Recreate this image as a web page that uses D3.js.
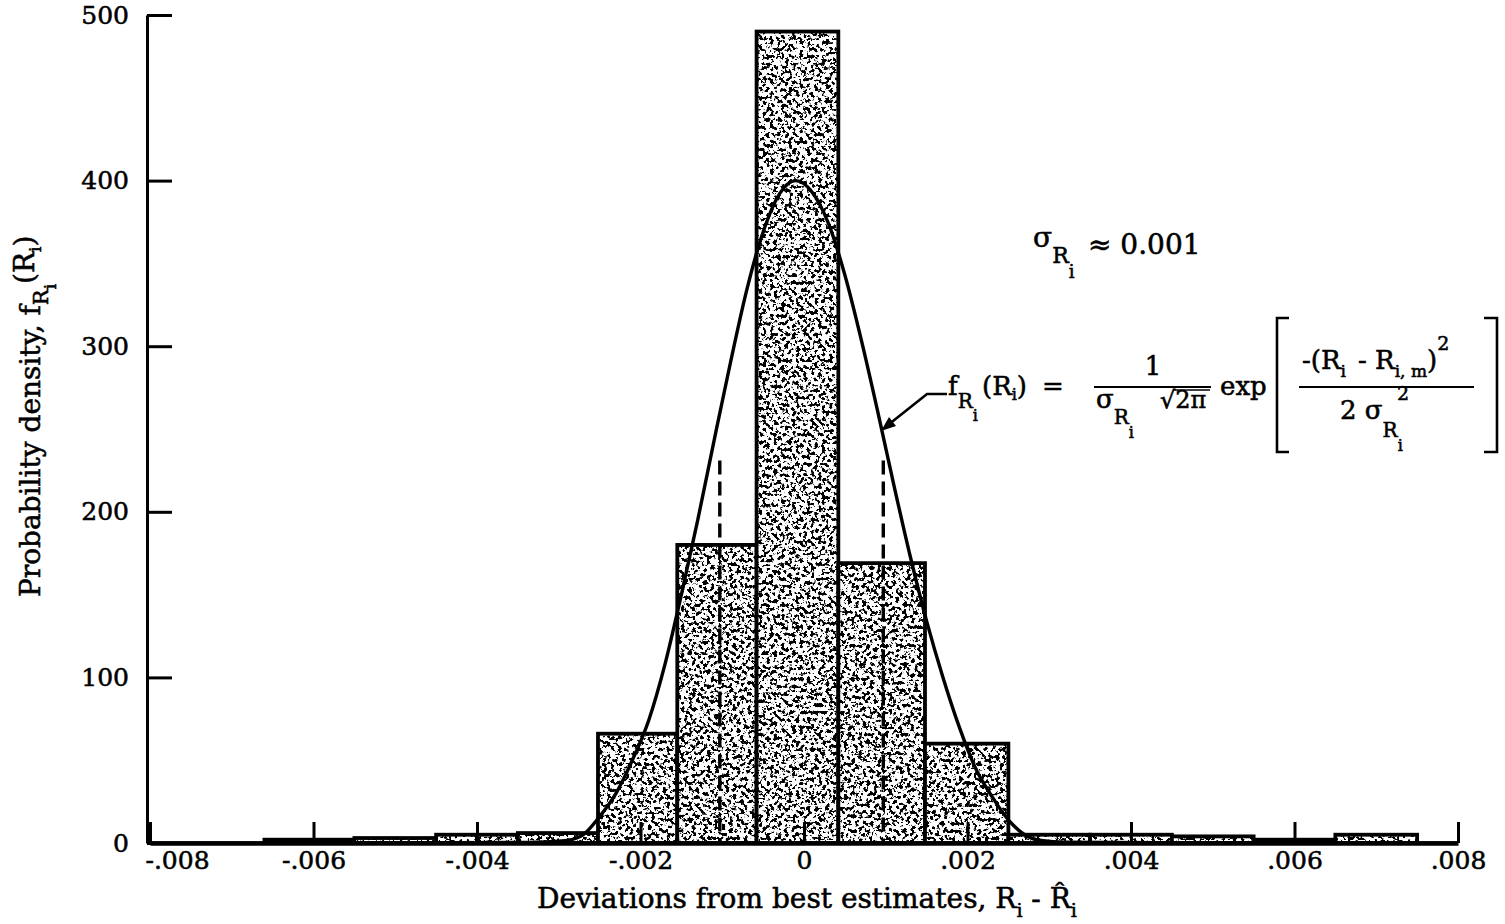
<!DOCTYPE html>
<html>
<head>
<meta charset="utf-8">
<script src="https://cdn.jsdelivr.net/npm/d3@7"></script>
<style>
  html, body { margin: 0; padding: 0; background: #fff; }
  svg { display: block; }
  text { font-family: "DejaVu Serif", serif; fill: #000; stroke: #000; stroke-width: 0.55px; }
</style>
</head>
<body>
<svg id="chart" width="1505" height="924"></svg>
<script>
// ---------------- data ----------------
const binEdges = [-0.0066, -0.0055, -0.0045, -0.0035, -0.00252, -0.00155, -0.00058,
                  0.00042, 0.00148, 0.0025, 0.0035, 0.0045, 0.0055, 0.0065, 0.0075];
const binDensity = [2, 3, 5, 6, 66, 180, 490, 169, 60, 5, 5, 4, 2, 5];

const curveX = [-0.008, -0.005, -0.0035, -0.0031, -0.0029, -0.0027, -0.0025, -0.0023,
                -0.0021, -0.0019, -0.0017, -0.0015, -0.0013, -0.0011, -0.0009, -0.0007,
                -0.0005, -0.0003, -0.0001, 0.0001, 0.0003, 0.0005, 0.0007, 0.0009, 0.0011,
                0.0013, 0.0015, 0.0017, 0.0019, 0.0021, 0.0023, 0.0025, 0.0027, 0.0029,
                0.0032, 0.0045, 0.008];
const curveY = [0, 0, 0.3, 0.8, 1.5, 5, 16, 30, 50, 74, 108, 150, 195, 243, 290, 334,
                369, 392, 400, 393, 374, 343, 304, 261, 216, 173, 134, 100, 70, 45, 28,
                14, 5, 1.5, 0.5, 0.2, 0];

const sigmaLinesX = [-0.00103, 0.00097];
const sigmaLinesTop = [231, 231];

const xTicks = [-0.008, -0.006, -0.004, -0.002, 0, 0.002, 0.004, 0.006, 0.008];
const xTickLabels = ["-.008", "-.006", "-.004", "-.002", "0", ".002", ".004", ".006", ".008"];
const yTicks = [0, 100, 200, 300, 400, 500];

// ---------------- setup ----------------
const svg = d3.select("#chart");
const x = d3.scaleLinear().domain([-0.008, 0.008]).range([150, 1458]);
const y = d3.scaleLinear().domain([0, 500]).range([843, 15]);

const defs = svg.append("defs");
const filt = defs.append("filter").attr("id", "speck")
  .attr("filterUnits", "userSpaceOnUse")
  .attr("x", 0).attr("y", 0).attr("width", 1505).attr("height", 924)
  .attr("color-interpolation-filters", "sRGB");
filt.append("feTurbulence").attr("type", "fractalNoise")
  .attr("baseFrequency", 0.27).attr("numOctaves", 3).attr("seed", 7).attr("result", "n");
filt.append("feColorMatrix").attr("in", "n").attr("type", "matrix")
  .attr("values", "0 0 0 0 0  0 0 0 0 0  0 0 0 0 0  -18 0 0 0 8.7");
const pat = defs.append("pattern").attr("id", "stip")
  .attr("patternUnits", "userSpaceOnUse").attr("width", 1505).attr("height", 924);
pat.append("rect").attr("width", 1505).attr("height", 924).attr("fill", "#fff");
pat.append("rect").attr("width", 1505).attr("height", 924).attr("fill", "#000")
  .attr("filter", "url(#speck)");

// ---------------- bars ----------------
const bins = binDensity.map((v, i) => ({ lo: binEdges[i], hi: binEdges[i + 1], v }));
svg.append("g").selectAll("rect").data(bins).join("rect")
  .attr("x", d => x(d.lo))
  .attr("y", d => y(d.v))
  .attr("width", d => x(d.hi) - x(d.lo))
  .attr("height", d => y(0) - y(d.v))
  .attr("fill", "url(#stip)")
  .attr("stroke", "#000")
  .attr("stroke-width", 3.8);

// dashed sigma lines
svg.append("g").selectAll("line").data(sigmaLinesX).join("line")
  .attr("x1", d => x(d)).attr("x2", d => x(d))
  .attr("y1", (d, i) => y(sigmaLinesTop[i])).attr("y2", y(0))
  .attr("stroke", "#000").attr("stroke-width", 3.4)
  .attr("stroke-dasharray", "14,7");

// normal curve
const pts = curveX.map((v, i) => [v, curveY[i]]);
svg.append("path").datum(pts)
  .attr("fill", "none").attr("stroke", "#000").attr("stroke-width", 3.4)
  .attr("d", d3.line().x(d => x(d[0])).y(d => y(d[1])).curve(d3.curveMonotoneX));

// ---------------- axes ----------------
const yAxis = svg.append("g").attr("transform", "translate(147,0)")
  .call(d3.axisLeft(y).tickValues(yTicks).tickSizeInner(-25).tickSizeOuter(0).tickPadding(18));
yAxis.select(".domain").attr("stroke-width", 3);
yAxis.selectAll(".tick line").attr("stroke-width", 3);
yAxis.selectAll(".tick text").attr("font-size", 25).attr("font-family", "DejaVu Serif");

const xAxis = svg.append("g").attr("transform", `translate(0,${y(0)})`)
  .call(d3.axisBottom(x).tickValues(xTicks).tickFormat((d, i) => xTickLabels[i])
    .tickSizeInner(-21).tickSizeOuter(0).tickPadding(8));
xAxis.select(".domain").attr("stroke-width", 4.5);
xAxis.selectAll(".tick line").attr("stroke-width", 3);
xAxis.selectAll(".tick text").attr("font-size", 25).attr("font-family", "DejaVu Serif")
  .attr("dx", (d, i) => i === 0 ? 27 : 0);
svg.selectAll(".domain").attr("stroke", "#000");
svg.selectAll(".tick line").attr("stroke", "#000");
svg.selectAll(".tick text").attr("fill", "#000");

// ---------------- titles ----------------
const xt = svg.append("text").attr("x", 537).attr("y", 908).attr("font-size", 28);
xt.append("tspan").text("Deviations from best estimates, R");
xt.append("tspan").attr("font-size", 19).attr("dy", 9).text("i");
xt.append("tspan").attr("dy", -9).text(" - R\u0302");
xt.append("tspan").attr("font-size", 19).attr("dy", 9).text("i");

const yt = svg.append("text").attr("transform", "translate(40,597) rotate(-90)").attr("font-size", 28);
yt.append("tspan").text("Probability density, f");
yt.append("tspan").attr("font-size", 21).attr("dy", 8).text("R");
yt.append("tspan").attr("font-size", 17).attr("dy", 8).text("i");
yt.append("tspan").attr("dy", -22).attr("font-size", 28).text("(R");
yt.append("tspan").attr("font-size", 17).attr("dy", 7).text("i");
yt.append("tspan").attr("font-size", 28).attr("dy", -7).text(")");

// ---------------- annotations ----------------
const sg = svg.append("text").attr("x", 1033).attr("y", 247).attr("font-size", 28);
sg.append("tspan").text("\u03c3");
sg.append("tspan").attr("font-size", 22).attr("dy", 16).text("R");
sg.append("tspan").attr("font-size", 18).attr("dy", 15).text("i");
sg.append("tspan").attr("font-size", 28).attr("x", 1088).attr("dy", -24).text("\u2248 0.001");

function T(xp, yp, size, anchor) {
  return svg.append("text").attr("x", xp).attr("y", yp).attr("font-size", size)
    .attr("text-anchor", anchor || "start");
}
// left-hand side
const lhs = T(948, 395, 26);
lhs.append("tspan").text("f");
lhs.append("tspan").attr("font-size", 20).attr("dy", 13).text("R");
lhs.append("tspan").attr("font-size", 16).attr("dy", 13).text("i");
lhs.append("tspan").attr("font-size", 26).attr("dy", -26).attr("x", 982).text("(R");
lhs.append("tspan").attr("font-size", 16).attr("dy", 5).text("i");
lhs.append("tspan").attr("font-size", 26).attr("dy", -5).text(")");
lhs.append("tspan").attr("x", 1042).text("=");

// first fraction
T(1153, 375, 26, "middle").text("1");
svg.append("line").attr("x1", 1094).attr("x2", 1211).attr("y1", 387).attr("y2", 387)
  .attr("stroke", "#000").attr("stroke-width", 2.2);
const den1 = T(1096, 408, 26);
den1.append("tspan").text("\u03c3");
den1.append("tspan").attr("font-size", 20).attr("dy", 16).text("R");
den1.append("tspan").attr("font-size", 16).attr("dy", 14).text("i");
den1.append("tspan").attr("font-size", 24).attr("dy", -30).attr("x", 1160).text("\u221a2\u03c0");
svg.append("line").attr("x1", 1174).attr("x2", 1210).attr("y1", 390).attr("y2", 390)
  .attr("stroke", "#000").attr("stroke-width", 1.6);

T(1220, 395, 26).text("exp");

// brackets
svg.append("path").attr("d", "M1289,318H1277V452H1289").attr("fill", "none")
  .attr("stroke", "#000").attr("stroke-width", 2.6);
svg.append("path").attr("d", "M1484,318H1497V452H1484").attr("fill", "none")
  .attr("stroke", "#000").attr("stroke-width", 2.6);

// exponent fraction
const num2 = T(1302, 369, 26);
num2.append("tspan").text("-(R");
num2.append("tspan").attr("font-size", 17).attr("dy", 8).text("i");
num2.append("tspan").attr("font-size", 26).attr("dy", -8).attr("x", 1358).text("- R");
num2.append("tspan").attr("font-size", 17).attr("dy", 8).text("i, m");
num2.append("tspan").attr("font-size", 26).attr("dy", -8).text(")");
num2.append("tspan").attr("font-size", 19).attr("dy", -19).text("2");
svg.append("line").attr("x1", 1299).attr("x2", 1474).attr("y1", 387).attr("y2", 387)
  .attr("stroke", "#000").attr("stroke-width", 2.2);
const den2 = T(1340, 419, 26);
den2.append("tspan").text("2 \u03c3");
den2.append("tspan").attr("font-size", 20).attr("dy", 18).text("R");
den2.append("tspan").attr("font-size", 16).attr("dy", 14).text("i");
T(1397, 400, 19).text("2");

// leader arrow
svg.append("path").attr("d", "M947,394H927L888,425").attr("fill", "none")
  .attr("stroke", "#000").attr("stroke-width", 2.6);
svg.append("path").attr("d", "M881,431L889,417L896,426Z").attr("fill", "#000");
</script>
</body>
</html>
